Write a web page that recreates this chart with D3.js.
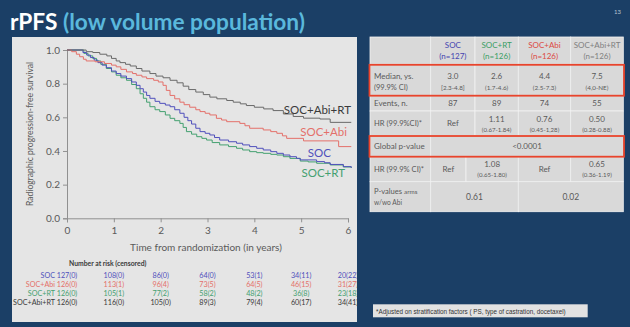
<!DOCTYPE html>
<html><head><meta charset="utf-8">
<script src="https://cdn.jsdelivr.net/npm/d3@7"></script>
<style>html,body{margin:0;padding:0;background:#1b3f66;overflow:hidden}svg{display:block}</style>
</head><body>
<svg id="c" width="630" height="327"></svg>
<script>
// ---------- DATA ----------
const seriesNames = ["SOC+Abi+RT", "SOC+Abi", "SOC", "SOC+RT"];
const tAbiRT = [0,0.41,0.55,0.7,0.85,0.95,1.05,1.13,1.25,1.35,1.48,1.6,1.77,1.9,2.05,2.2,2.35,2.48,2.6,2.75,2.91,3.05,3.2,3.41,3.55,3.7,3.83,4.0,4.2,4.4,4.62,4.83,5.05,5.4,5.62,6.07];
const sAbiRT = [1,0.99,0.985,0.975,0.965,0.95,0.935,0.925,0.915,0.905,0.89,0.875,0.86,0.845,0.835,0.82,0.805,0.785,0.765,0.75,0.735,0.72,0.71,0.70,0.69,0.68,0.67,0.66,0.65,0.64,0.62,0.605,0.595,0.59,0.57,0.57];
const tAbi = [0,0.1,0.2,0.27,0.35,0.41,0.6,0.8,0.95,1.05,1.15,1.27,1.4,1.48,1.6,1.7,1.85,1.95,2.05,2.12,2.2,2.3,2.41,2.5,2.62,2.75,2.84,2.95,3.05,3.19,3.3,3.41,3.69,3.8,3.9,4.19,4.35,4.48,4.6,4.69,5.05,5.8,6.07];
const sAbi = [1,0.99,0.975,0.96,0.945,0.935,0.93,0.92,0.91,0.90,0.885,0.87,0.86,0.85,0.84,0.83,0.82,0.81,0.79,0.76,0.73,0.71,0.69,0.675,0.66,0.645,0.634,0.624,0.614,0.594,0.584,0.574,0.564,0.55,0.535,0.525,0.515,0.505,0.49,0.475,0.46,0.426,0.426];
const tSOC = [0,0.34,0.42,0.5,0.58,0.66,0.75,0.84,0.95,1.05,1.15,1.27,1.38,1.48,1.56,1.63,1.7,1.77,1.88,1.98,2.1,2.2,2.3,2.41,2.5,2.58,2.66,2.75,2.84,2.95,3.05,3.15,3.26,3.45,3.62,3.75,3.9,4.05,4.19,4.35,4.48,4.62,4.76,4.9,4.98,5.33,5.5,5.62,5.9,6.07];
const sSOC = [1,0.985,0.97,0.955,0.94,0.925,0.91,0.895,0.875,0.86,0.845,0.83,0.81,0.79,0.77,0.75,0.73,0.713,0.695,0.683,0.673,0.663,0.645,0.624,0.6,0.58,0.56,0.535,0.515,0.505,0.495,0.48,0.465,0.455,0.446,0.436,0.426,0.416,0.406,0.396,0.386,0.376,0.366,0.356,0.347,0.337,0.33,0.32,0.307,0.30];
const tRT = [0,0.36,0.45,0.55,0.63,0.72,0.84,0.95,1.05,1.15,1.27,1.38,1.48,1.56,1.63,1.7,1.77,1.88,1.98,2.1,2.2,2.3,2.41,2.48,2.55,2.66,2.77,2.88,2.98,3.1,3.26,3.45,3.62,3.75,3.9,4.05,4.19,4.35,4.48,4.62,4.76,4.98,5.15,5.33,5.62,5.9,6.07];
const sRT = [1,0.98,0.965,0.95,0.935,0.915,0.89,0.87,0.85,0.835,0.82,0.795,0.77,0.74,0.713,0.69,0.663,0.645,0.634,0.614,0.594,0.58,0.564,0.54,0.515,0.5,0.485,0.475,0.465,0.45,0.436,0.426,0.416,0.406,0.396,0.39,0.386,0.38,0.376,0.366,0.356,0.34,0.335,0.327,0.317,0.305,0.30];

const xTicks = [0,1,2,3,4,5,6];
const yTicks = [0,0.2,0.4,0.6,0.8,1.0];

const riskLabels = ["SOC","SOC+Abi","SOC+RT","SOC+Abi+RT"];
const riskSOC   = ["127(0)","108(0)","86(0)","64(0)","53(1)","34(11)","20(22)"];
const riskAbi   = ["126(0)","113(1)","96(4)","73(5)","64(5)","46(15)","31(27)"];
const riskRT    = ["126(0)","105(1)","77(2)","58(2)","48(2)","36(8)","23(18)"];
const riskAbiRT = ["126(0)","116(0)","105(0)","89(3)","79(4)","60(17)","34(41)"];

const tableHeads = ["SOC","SOC+RT","SOC+Abi","SOC+Abi+RT"];
const tableN = ["(n=127)","(n=126)","(n=126)","(n=126)"];
const medians = ["3.0","2.6","4.4","7.5"];
const medianCI = ["[2.3-4.8]","(1.7-4.6)","(2.5-7.3)","(4,0-NE)"];
const events = ["87","89","74","55"];
const hr1 = ["Ref","1.11","0.76","0.50"];
const hr1CI = ["","(0.67-1.84)","(0.45-1,28)","(0.28-0.88)"];
const globalP = "<0.0001";
const hr2 = ["Ref","1.08","Ref","0.65"];
const hr2CI = ["","(0.65-1.80)","","(0.36-1.19)"];
const pvals = ["0.61","0.02"];

// ---------- STYLE ----------
const colors = {"SOC+Abi+RT":"#6a6a6a","SOC+Abi":"#e4706a","SOC":"#5050bc","SOC+RT":"#44a070"};
const headColors = ["#4545b0","#3a9e64","#dc4a44","#808080"];
const FONT = "Lato, 'Open Sans', sans-serif";
const TXT = "#5a5a5a";

const svg = d3.select("#c");
svg.append("rect").attr("width",630).attr("height",327).attr("fill","#1b3f66");

// title
const title = svg.append("text").attr("x",10).attr("y",30)
  .attr("font-family",FONT).attr("font-weight","bold").attr("font-size",23);
title.append("tspan").attr("fill","#ffffff").text("rPFS ");
title.append("tspan").attr("fill","#5ab8dc").text("(low volume population)");
title.attr("textLength",295).attr("lengthAdjust","spacingAndGlyphs");
svg.append("text").attr("x",614).attr("y",14).attr("font-family",FONT).attr("font-size",6)
  .attr("fill","#b8c4d0").text("13");

// left panel
svg.append("defs").append("clipPath").attr("id","pclip").append("rect")
  .attr("x",12).attr("y",37).attr("width",345).attr("height",285);
svg.append("rect").attr("x",12).attr("y",37).attr("width",345).attr("height",285)
  .attr("fill","#e5e5e5");
const P = svg.append("g").attr("clip-path","url(#pclip)");

const x = d3.scaleLinear().domain([0,6]).range([67,348]);
const y = d3.scaleLinear().domain([0,1]).range([218.3,50]);

const gx = P.append("g").attr("transform","translate(0,218.3)")
  .call(d3.axisBottom(x).tickValues(xTicks).tickSize(4).tickPadding(5).tickFormat(d3.format("d")));
const gy = P.append("g").attr("transform","translate(67,0)")
  .call(d3.axisLeft(y).tickValues(yTicks).tickSize(4).tickPadding(3).tickFormat(d3.format(".1f")));
[gx,gy].forEach(g=>{
  g.selectAll("path,line").attr("stroke","#909090");
  g.selectAll("text").attr("fill",TXT).attr("font-family",FONT).attr("font-size",10);
});

P.append("text").attr("transform","translate(33,134) rotate(-90)").attr("text-anchor","middle")
  .attr("font-family",FONT).attr("font-size",8.6).attr("fill",TXT)
  .text("Radiographic progression-free survival");
P.append("text").attr("x",206).attr("y",251).attr("text-anchor","middle")
  .attr("font-family",FONT).attr("font-size",10).attr("fill",TXT)
  .text("Time from randomization (in years)");

const line = d3.line().x(d=>x(d[0])).y(d=>y(d[1])).curve(d3.curveStepAfter);
const curves = [
  ["SOC+RT", tRT, sRT],
  ["SOC", tSOC, sSOC],
  ["SOC+Abi", tAbi, sAbi],
  ["SOC+Abi+RT", tAbiRT, sAbiRT]
];
curves.forEach(([name,ts,ss])=>{
  P.append("path").datum(ts.map((t,i)=>[t,ss[i]]))
    .attr("d",line).attr("fill","none").attr("stroke",colors[name]).attr("stroke-width",1);
});

const curveLabels = [["SOC+Abi+RT",0.645,351],["SOC+Abi",0.515,347],["SOC",0.39,331],["SOC+RT",0.27,345]];
curveLabels.forEach(([n,v,xe])=>{
  P.append("text").attr("x",xe).attr("y",y(v)+4).attr("text-anchor","end")
    .attr("font-family",FONT).attr("font-size",11.5).attr("fill",n==="SOC+Abi+RT"?"#3a3a3a":colors[n]).text(n);
});

// number at risk
P.append("text").attr("x",69).attr("y",266).attr("font-family",FONT).attr("font-weight","bold")
  .attr("font-size",6.8).attr("fill","#3a3a3a").text("Number at risk (censored)");
const riskRows = [riskSOC,riskAbi,riskRT,riskAbiRT];
const riskCols = [colors["SOC"],colors["SOC+Abi"],colors["SOC+RT"],"#3a3a3a"];
const riskY = [278,287,296,305];
riskRows.forEach((row,i)=>{
  P.append("text").attr("x",55).attr("y",riskY[i]).attr("text-anchor","end")
    .attr("font-family",FONT).attr("font-size",7.2).attr("fill",riskCols[i]).text(riskLabels[i]);
  row.forEach((v,j)=>{
    P.append("text").attr("x",x(xTicks[j])).attr("y",riskY[i]).attr("text-anchor","middle")
      .attr("font-family",FONT).attr("font-size",7.2).attr("fill",riskCols[i]).text(v);
  });
});

// ---------- TABLE ----------
const T = svg.append("g");
const colE = [370,430.7,475,518.3,570.7,623.3];
const colE2 = [370,430.7,466,518.3,570.7,623.3];
const rowE = [37,64.3,95.7,111,135.5,156.7,181.7,211.7];
const cellFill = "#d9d9d9", cellStroke = "#f2f2f2";
function cell(x0,x1,y0,y1){
  T.append("rect").attr("x",x0).attr("y",y0).attr("width",x1-x0).attr("height",y1-y0)
    .attr("fill",cellFill).attr("stroke",cellStroke).attr("stroke-width",0.8);
}
function txt(xc,yc,s,size,fill,anchor){
  T.append("text").attr("x",xc).attr("y",yc).attr("text-anchor",anchor||"middle")
    .attr("font-family",FONT).attr("font-size",size).attr("fill",fill||TXT).text(s);
}
const mid = (a,b)=>(a+b)/2;
// header
for(let c=0;c<5;c++) cell(colE[c],colE[c+1],rowE[0],rowE[1]);
tableHeads.forEach((h,i)=>{
  const xc = mid(colE[i+1],colE[i+2]);
  txt(xc,48,h,8,headColors[i]);
  txt(xc,59,tableN[i],8,headColors[i]);
});
// median
for(let c=0;c<5;c++) cell(colE[c],colE[c+1],rowE[1],rowE[2]);
txt(374,79,"Median, ys.",8,TXT,"start");
txt(374,90,"(99.9% CI)",7.5,TXT,"start");
medians.forEach((m,i)=>{ const xc=mid(colE[i+1],colE[i+2]); txt(xc,79,m,8); txt(xc,90,medianCI[i],6.3); });
// events
for(let c=0;c<5;c++) cell(colE[c],colE[c+1],rowE[2],rowE[3]);
txt(374,106,"Events, n.",8,TXT,"start");
events.forEach((e,i)=>txt(mid(colE[i+1],colE[i+2]),106,e,8));
// HR1
for(let c=0;c<5;c++) cell(colE[c],colE[c+1],rowE[3],rowE[4]);
txt(374,126,"HR (99.9%CI)*",7.6,TXT,"start");
hr1.forEach((h,i)=>{
  const xc=mid(colE[i+1],colE[i+2]);
  if(hr1CI[i]===""){ txt(xc,126,h,8); }
  else { txt(xc,122,h,8); txt(xc,131.5,hr1CI[i],6.1); }
});
// Global
cell(colE[0],colE[1],rowE[4],rowE[5]); cell(colE[1],colE[5],rowE[4],rowE[5]);
txt(374,149,"Global p-value",8,TXT,"start");
txt(mid(colE[1],colE[5]),149,globalP,8);
// HR2
for(let c=0;c<5;c++) cell(colE2[c],colE2[c+1],rowE[5],rowE[6]);
txt(374,172,"HR (99.9% CI)*",7.6,TXT,"start");
hr2.forEach((h,i)=>{
  const xc=mid(colE2[i+1],colE2[i+2]);
  if(hr2CI[i]===""){ txt(xc,172,h,8); }
  else { txt(xc,167,h,8); txt(xc,177,hr2CI[i],6.1); }
});
// P-values
cell(colE[0],colE[1],rowE[6],rowE[7]); cell(colE[1],colE[3],rowE[6],rowE[7]); cell(colE[3],colE[5],rowE[6],rowE[7]);
const pl = T.append("text").attr("x",374).attr("y",194).attr("font-family",FONT).attr("fill",TXT);
pl.append("tspan").attr("font-size",7.6).text("P-values ");
pl.append("tspan").attr("font-size",6.3).text("arms");
txt(374,205,"w/wo Abi",6.6,TXT,"start");
txt(mid(colE[1],colE[3]),200,pvals[0],8.5);
txt(mid(colE[3],colE[5]),200,pvals[1],8.5);
// red boxes
[[rowE[1],rowE[2]],[rowE[4],rowE[5]]].forEach(([a,b])=>{
  T.append("rect").attr("x",369.5).attr("y",a+0.5).attr("width",254.5).attr("height",b-a-0.5)
    .attr("fill","none").attr("stroke","#e8442c").attr("stroke-width",1.8);
});

// footnote
svg.append("rect").attr("x",373).attr("y",304.3).attr("width",214.7).attr("height",13)
  .attr("fill","#e2e2e2");
svg.append("text").attr("x",376).attr("y",313.5).attr("font-family","'Liberation Sans', Arial, sans-serif")
  .attr("font-size",6.3).attr("fill","#333")
  .text("*Adjusted on stratification factors ( PS, type of castration, docetaxel)");
</script>
</body></html>
